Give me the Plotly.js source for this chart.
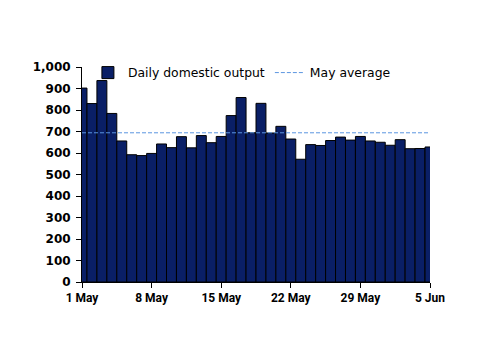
<!DOCTYPE html>
<html>
<head>
<meta charset="utf-8">
<script src="https://cdn.plot.ly/plotly-3.0.1.min.js"></script>
<style>html,body{margin:0;padding:0;background:#fff;}#chart{width:500px;height:354px;}</style>
</head>
<body>
<div id="chart"></div>
<script>
const dates = ["2009-05-01","2009-05-02","2009-05-03","2009-05-04","2009-05-05","2009-05-06","2009-05-07","2009-05-08","2009-05-09","2009-05-10","2009-05-11","2009-05-12","2009-05-13","2009-05-14","2009-05-15","2009-05-16","2009-05-17","2009-05-18","2009-05-19","2009-05-20","2009-05-21","2009-05-22","2009-05-23","2009-05-24","2009-05-25","2009-05-26","2009-05-27","2009-05-28","2009-05-29","2009-05-30","2009-05-31","2009-06-01","2009-06-02","2009-06-03","2009-06-04","2009-06-05"];
const dailyOutput = [902,830,937,784,656,592,588,598,642,625,676,624,681,648,677,774,858,694,831,693,724,665,571,639,635,658,674,660,677,656,650,636,662,620,621,628];
const mayAverage = 694;
const seriesNames = ["Daily domestic output","May average"];
const yTickVals = [0,100,200,300,400,500,600,700,800,900,1000];
const yTickText = ["0","100","200","300","400","500","600","700","800","900","1,000"];

const traces = [
  {type:"bar", x:dates, y:dailyOutput, name:seriesNames[0], width:86400000,
   marker:{color:"#0a1f66", line:{color:"#000", width:1}}},
  {type:"scatter", mode:"lines", x:[dates[0], dates[dates.length-1]], y:[mayAverage, mayAverage],
   name:seriesNames[1], line:{color:"#5b95e0", width:1, dash:"4px,2px"}}
];
const layout = {
  width:500, height:354,
  margin:{l:82, r:70, t:67, b:72},
  paper_bgcolor:"#fff", plot_bgcolor:"#fff",
  font:{family:"DejaVu Sans", size:12, color:"#000"},
  bargap:0,
  showlegend:true,
  legend:{orientation:"h", x:0.017, xanchor:"left", y:0.972, yanchor:"middle",
          font:{family:"DejaVu Sans", size:12.4, color:"#000"}, bgcolor:"rgba(0,0,0,0)", itemwidth:30},
  xaxis:{type:"date", range:[dates[0], dates[dates.length-1]], tick0:dates[0], dtick:604800000,
         tickformat:"%-d %b", ticks:"outside", ticklen:5, tickcolor:"#000", showline:true,
         linecolor:"#000", linewidth:1, showgrid:false, zeroline:false,
         tickfont:{family:"Roboto", size:12, color:"#000", weight:"bold"}},
  yaxis:{range:[0,1000], tickvals:yTickVals, ticktext:yTickText, ticks:"outside", ticklen:5,
         tickcolor:"#000", showline:true, linecolor:"#000", linewidth:1, showgrid:false,
         zeroline:false, ticklabelstandoff:3,
         tickfont:{family:"DejaVu Sans", size:12, color:"#000", weight:"bold"}}
};
Plotly.newPlot("chart", traces, layout, {displayModeBar:false, staticPlot:true});
</script>
</body>
</html>
